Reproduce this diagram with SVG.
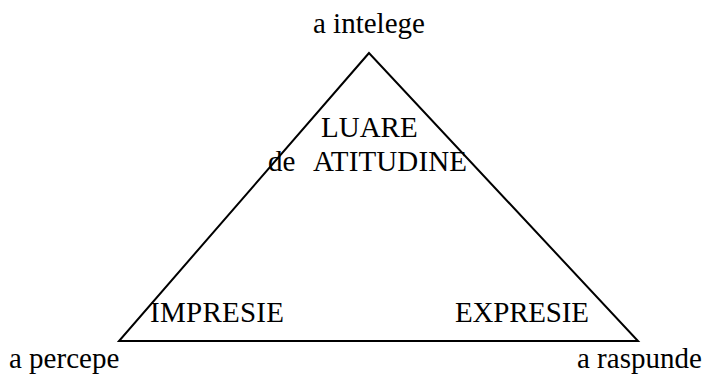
<svg xmlns="http://www.w3.org/2000/svg" width="704" height="376" viewBox="0 0 704 376">
<style>
.t{font-family:"Liberation Serif","Times New Roman",serif;font-size:29px;fill:#000}
.edge{fill:none;stroke:#000;stroke-width:2;stroke-linejoin:miter}
</style>
<rect width="704" height="376" fill="#fff"/>
<g id="connectors">
<polygon class="edge" points="369,53 119,341 638,341"/>
</g>
<g id="node-intelege"><text class="t" x="313" y="33">a intelege</text></g>
<g id="node-percepe"><text class="t" x="9" y="368">a percepe</text></g>
<g id="node-raspunde"><text class="t" x="577" y="368">a raspunde</text></g>
<g id="node-impresie"><text class="t" x="150" y="322" textLength="134">IMPRESIE</text></g>
<g id="node-expresie"><text class="t" x="455" y="322" textLength="134">EXPRESIE</text></g>
<g id="node-luare">
<text class="t" x="321" y="137">LUARE</text>
<text class="t" x="268" y="171">de</text>
<text class="t" x="313" y="171" textLength="154">ATITUDINE</text>
</g>
</svg>
